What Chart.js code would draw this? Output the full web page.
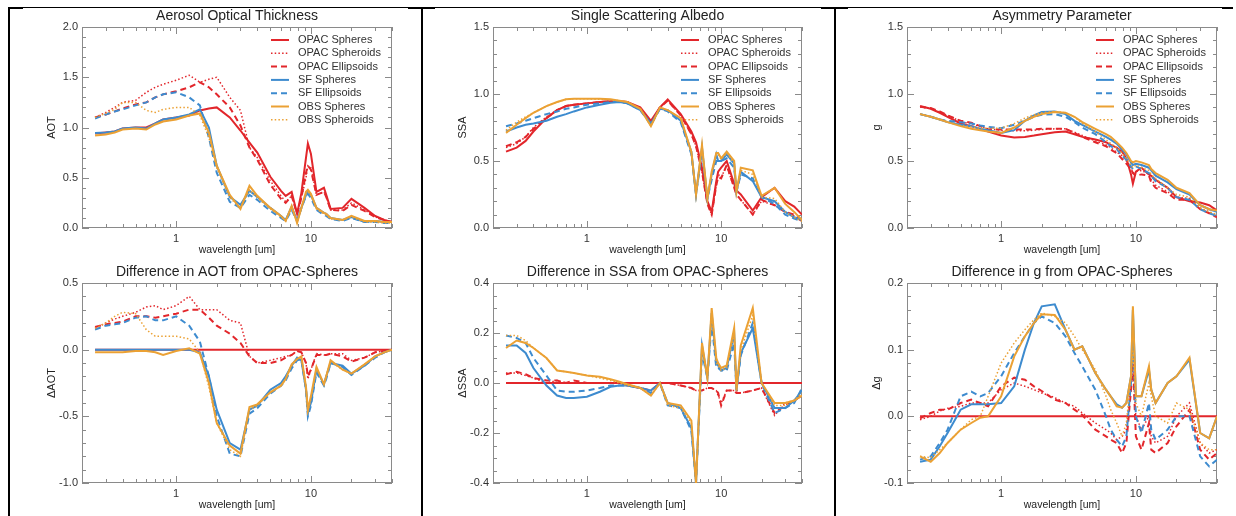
<!DOCTYPE html>
<html>
<head>
<meta charset="utf-8">
<script src="https://cdn.jsdelivr.net/npm/chart.js@4.4.1/dist/chart.umd.min.js"></script>
<style>
  html, body { margin: 0; padding: 0; background: #ffffff; }
  #page { position: relative; width: 1236px; height: 516px; overflow: hidden; background: #ffffff; }
  #page canvas { position: absolute; z-index: 1; }
  .rule { position: absolute; background: #000000; z-index: 2; }
</style>
</head>
<body>
<div id="page">
  <!-- table borders of the original document -->
  <div class="rule" style="left:8px;top:7px;width:1225px;height:1px;"></div>
  <div class="rule" style="left:8px;top:7px;width:15px;height:2px;"></div>
  <div class="rule" style="left:408px;top:7px;width:27px;height:2px;"></div>
  <div class="rule" style="left:821px;top:7px;width:27px;height:2px;"></div>
  <div class="rule" style="left:1222px;top:7px;width:11px;height:2px;"></div>
  <div class="rule" style="left:8px;top:7px;width:2px;height:509px;"></div>
  <div class="rule" style="left:421px;top:7px;width:2px;height:509px;"></div>
  <div class="rule" style="left:834px;top:7px;width:2px;height:509px;"></div>
</div>
<script>
// wavelengths [um]
const WL = [0.25, 0.3, 0.35, 0.4, 0.5, 0.6, 0.7, 0.8, 1.0, 1.25, 1.5, 1.75,
  2.0, 2.5, 3.0, 3.5, 4.0, 5.0, 6.0, 6.5, 7.2, 7.9, 8.5, 9.2,
  9.5, 10.0, 11.0, 12.5, 13.0, 14.0, 17.2, 20.0, 25.0, 30.0, 35.0, 40.0];

const SERIES_NAMES = ["OPAC Spheres", "OPAC Spheroids", "OPAC Ellipsoids",
  "SF Spheres", "SF Ellipsoids", "OBS Spheres", "OBS Spheroids"];

const X_MAJOR = [1, 10];
const X_MINOR = [0.2, 0.3, 0.4, 0.5, 0.6, 0.7, 0.8, 0.9, 2, 3, 4, 5, 6, 7, 8, 9, 20, 30, 40];

// Aerosol optical thickness
const aotOpacSph = [0.94,0.95,0.96,0.99,1.00,1.00,1.04,1.08,1.10,1.12,1.17,1.19, 1.20,1.10,0.97,0.85,0.75,0.51,0.37,0.32, 0.36,0.14,0.35,0.70,0.84,0.74,0.36,0.40, 0.33,0.19,0.20,0.29,0.20,0.12,0.08,0.06];
const aotOpacSpd = [1.10,1.15,1.20,1.25,1.27,1.35,1.40,1.43,1.47,1.52,1.45,1.48, 1.50,1.30,1.17,0.80,0.70,0.47,0.32,0.26, 0.32,0.14,0.30,0.50,0.62,0.60,0.33,0.36, 0.31,0.18,0.18,0.25,0.18,0.11,0.08,0.06];
const aotOpacEll = [1.10,1.13,1.16,1.19,1.23,1.25,1.30,1.33,1.36,1.40,1.45,1.40, 1.33,1.20,1.02,0.80,0.68,0.43,0.29,0.25, 0.32,0.14,0.30,0.55,0.62,0.58,0.33,0.36, 0.31,0.18,0.17,0.23,0.17,0.11,0.08,0.06];
const aotSfSph = [0.945,0.95,0.96,0.99,1.00,0.99,1.04,1.08,1.10,1.13,1.18,1.00, 0.62,0.31,0.23,0.37,0.31,0.20,0.12,0.08, 0.21,0.07,0.20,0.33,0.37,0.33,0.20,0.15, 0.14,0.10,0.08,0.11,0.06,0.07,0.06,0.06];
const aotSfEll = [1.09,1.13,1.16,1.18,1.22,1.25,1.30,1.33,1.35,1.30,1.22,0.90, 0.55,0.26,0.20,0.33,0.28,0.17,0.10,0.07, 0.18,0.07,0.20,0.32,0.34,0.30,0.18,0.13, 0.12,0.09,0.07,0.10,0.06,0.06,0.05,0.05];
const aotObsSph = [0.92,0.93,0.95,0.98,0.99,0.98,1.03,1.06,1.08,1.12,1.14,0.95, 0.62,0.33,0.19,0.42,0.32,0.20,0.12,0.07, 0.22,0.05,0.20,0.36,0.38,0.34,0.20,0.15, 0.14,0.10,0.08,0.12,0.07,0.07,0.06,0.06];
const aotObsSpd = [1.10,1.14,1.18,1.25,1.25,1.17,1.15,1.18,1.20,1.20,1.12,0.90, 0.60,0.30,0.20,0.38,0.30,0.19,0.11,0.07, 0.20,0.06,0.20,0.34,0.36,0.32,0.19,0.14, 0.13,0.09,0.08,0.11,0.06,0.06,0.05,0.05];

// Difference in AOT from OPAC-Spheres
const dAotOpacSph = [0,0,0,0,0,0,0,0,0,0,0,0, 0,0,0,0,0,0,0,0, 0,0,0,0,0,0,0,0, 0,0,0,0,0,0,0,0];
const dAotOpacSpd = [0.16,0.20,0.23,0.25,0.28,0.32,0.33,0.30,0.33,0.40,0.30,0.30, 0.30,0.22,0.20,-0.05,-0.10,-0.08,-0.06,-0.05, -0.04,-0.01,-0.02,-0.10,-0.22,-0.15,-0.03,-0.04, -0.04,-0.03,-0.03,-0.08,-0.06,-0.02,-0.01,0.00];
const dAotOpacEll = [0.17,0.19,0.20,0.21,0.25,0.25,0.24,0.25,0.27,0.30,0.30,0.24, 0.18,0.12,0.05,-0.05,-0.10,-0.10,-0.08,-0.06, -0.04,-0.01,-0.02,-0.10,-0.20,-0.15,-0.04,-0.04, -0.04,-0.03,-0.05,-0.09,-0.06,-0.02,-0.01,0.00];
const dAotSfSph = [0,0,0,0,0,0,0,0,0,0,-0.02,-0.20, -0.45,-0.70,-0.75,-0.45,-0.42,-0.30,-0.25,-0.20, -0.12,-0.06,-0.08,-0.30,-0.47,-0.40,-0.15,-0.26, -0.20,-0.10,-0.12,-0.18,-0.12,-0.05,-0.02,0.00];
const dAotSfEll = [0.15,0.18,0.19,0.20,0.24,0.25,0.22,0.22,0.25,0.18,0.06,-0.20, -0.50,-0.78,-0.80,-0.48,-0.44,-0.33,-0.27,-0.23, -0.14,-0.08,-0.07,-0.30,-0.50,-0.42,-0.17,-0.27, -0.22,-0.10,-0.13,-0.19,-0.12,-0.06,-0.02,0.00];
const dAotObsSph = [-0.02,-0.02,-0.02,-0.02,-0.01,-0.01,-0.02,-0.04,-0.01,0.01,-0.03,-0.25, -0.55,-0.72,-0.78,-0.43,-0.41,-0.32,-0.27,-0.22, -0.11,-0.07,-0.05,-0.28,-0.45,-0.35,-0.13,-0.26, -0.20,-0.08,-0.15,-0.18,-0.11,-0.05,-0.02,0.00];
const dAotObsSpd = [0.16,0.20,0.25,0.28,0.27,0.15,0.10,0.10,0.10,0.08,-0.02,-0.28, -0.55,-0.75,-0.80,-0.45,-0.42,-0.32,-0.27,-0.22, -0.12,-0.07,-0.06,-0.29,-0.46,-0.37,-0.14,-0.26, -0.20,-0.09,-0.15,-0.18,-0.11,-0.05,-0.02,0.00];

// Single scattering albedo
const ssaOpacSph = [0.57,0.60,0.65,0.72,0.82,0.88,0.91,0.92,0.93,0.94,0.945,0.945, 0.94,0.90,0.80,0.90,0.96,0.85,0.72,0.64, 0.45,0.20,0.12,0.35,0.42,0.45,0.50,0.33, 0.28,0.25,0.13,0.23,0.30,0.20,0.16,0.10];
const ssaOpacSpd = [0.60,0.63,0.68,0.75,0.83,0.88,0.91,0.92,0.93,0.94,0.945,0.945, 0.94,0.89,0.78,0.90,0.95,0.84,0.70,0.61, 0.42,0.18,0.10,0.32,0.40,0.38,0.46,0.30, 0.25,0.21,0.10,0.20,0.17,0.12,0.09,0.05];
const ssaOpacEll = [0.61,0.64,0.68,0.74,0.82,0.88,0.91,0.92,0.93,0.94,0.945,0.945, 0.94,0.89,0.78,0.90,0.95,0.84,0.70,0.61, 0.42,0.18,0.10,0.32,0.38,0.37,0.47,0.30, 0.25,0.21,0.10,0.21,0.17,0.12,0.10,0.05];
const ssaSfSph = [0.72,0.75,0.77,0.78,0.80,0.83,0.85,0.87,0.90,0.92,0.935,0.94, 0.93,0.88,0.78,0.89,0.88,0.80,0.57,0.25, 0.60,0.22,0.40,0.55,0.50,0.50,0.55,0.48, 0.27,0.42,0.35,0.23,0.20,0.12,0.08,0.06];
const ssaSfEll = [0.76,0.78,0.80,0.82,0.85,0.87,0.89,0.90,0.92,0.93,0.94,0.94, 0.93,0.88,0.77,0.89,0.87,0.79,0.55,0.25, 0.57,0.22,0.36,0.50,0.50,0.50,0.52,0.45, 0.27,0.40,0.37,0.23,0.18,0.10,0.07,0.05];
const ssaObsSph = [0.71,0.77,0.82,0.86,0.91,0.94,0.96,0.965,0.965,0.965,0.96,0.95, 0.94,0.89,0.76,0.90,0.88,0.82,0.57,0.25, 0.62,0.22,0.42,0.56,0.56,0.52,0.57,0.50, 0.27,0.45,0.43,0.24,0.30,0.18,0.12,0.06];
const ssaObsSpd = [0.73,0.79,0.83,0.86,0.91,0.94,0.96,0.965,0.965,0.96,0.955,0.95, 0.94,0.89,0.76,0.90,0.88,0.82,0.56,0.25, 0.60,0.22,0.40,0.55,0.55,0.51,0.56,0.48, 0.27,0.43,0.40,0.23,0.22,0.12,0.08,0.05];

// Difference in SSA from OPAC-Spheres
const dSsaOpacSph = [0,0,0,0,0,0,0,0,0,0,0,0, 0,0,0,0,0,0,0,0, 0,0,0,0,0,0,0,0, 0,0,0,0,0,0,0,0];
const dSsaOpacSpd = [0.04,0.04,0.03,0.02,0.00,0.01,0.00,0.00,0.00,0.00,0.00,0.00, -0.01,-0.02,-0.03,0.00,0.00,-0.01,-0.02,-0.03, -0.03,-0.02,-0.02,-0.03,-0.05,-0.08,-0.03,-0.03, -0.03,-0.04,-0.03,-0.02,-0.13,-0.08,-0.07,-0.05];
const dSsaOpacEll = [0.035,0.045,0.035,0.02,0.01,0.01,0.00,0.01,0.00,0.00,0.00,0.00, -0.01,-0.02,-0.03,0.00,0.00,-0.01,-0.02,-0.03, -0.03,-0.02,-0.02,-0.03,-0.04,-0.09,-0.03,-0.03, -0.04,-0.04,-0.03,-0.02,-0.12,-0.09,-0.07,-0.05];
const dSsaSfSph = [0.15,0.15,0.12,0.06,-0.01,-0.05,-0.06,-0.06,-0.055,-0.035,-0.015,-0.01, -0.01,-0.02,-0.03,0.00,-0.08,-0.10,-0.18,-0.40, 0.15,0.02,0.28,0.08,0.07,0.05,0.06,0.20, -0.03,0.12,0.22,0.00,-0.10,-0.10,-0.07,-0.03];
const dSsaSfEll = [0.19,0.18,0.16,0.10,0.03,-0.03,-0.035,-0.035,-0.03,-0.02,-0.01,-0.01, -0.01,-0.02,-0.04,0.00,-0.09,-0.10,-0.19,-0.40, 0.12,0.02,0.24,0.06,0.06,0.05,0.05,0.16, -0.03,0.11,0.24,0.00,-0.12,-0.10,-0.08,-0.02];
const dSsaObsSph = [0.14,0.17,0.16,0.14,0.10,0.05,0.045,0.04,0.03,0.025,0.015,0.005, -0.005,-0.02,-0.05,0.00,-0.08,-0.09,-0.15,-0.40, 0.16,0.02,0.30,0.10,0.08,0.06,0.07,0.22, -0.03,0.15,0.30,0.00,-0.08,-0.08,-0.07,-0.05];
const dSsaObsSpd = [0.19,0.19,0.17,0.14,0.10,0.05,0.045,0.04,0.03,0.02,0.01,0.00, -0.01,-0.02,-0.05,0.00,-0.09,-0.10,-0.16,-0.40, 0.14,0.02,0.27,0.08,0.07,0.05,0.06,0.20, -0.03,0.13,0.27,0.00,-0.09,-0.09,-0.07,-0.04];

// Asymmetry parameter
const gOpacSph = [0.91,0.89,0.86,0.83,0.78,0.76,0.74,0.72,0.69,0.675,0.68,0.69, 0.70,0.715,0.72,0.70,0.68,0.66,0.64,0.62, 0.60,0.57,0.52,0.40,0.33,0.42,0.45,0.40, 0.39,0.36,0.30,0.23,0.20,0.19,0.17,0.13];
const gOpacSpd = [0.905,0.89,0.865,0.84,0.795,0.775,0.76,0.74,0.73,0.725,0.725,0.73, 0.735,0.74,0.74,0.715,0.69,0.65,0.62,0.60, 0.565,0.54,0.50,0.45,0.41,0.42,0.43,0.40, 0.36,0.32,0.27,0.23,0.22,0.15,0.12,0.09];
const gOpacEll = [0.905,0.895,0.87,0.84,0.80,0.785,0.76,0.735,0.735,0.735,0.735,0.735, 0.74,0.74,0.74,0.71,0.68,0.64,0.61,0.585, 0.56,0.515,0.48,0.44,0.41,0.39,0.40,0.39, 0.34,0.30,0.26,0.21,0.21,0.14,0.11,0.08];
const gSfSph = [0.85,0.83,0.81,0.79,0.77,0.76,0.74,0.73,0.71,0.73,0.80,0.84, 0.865,0.87,0.85,0.80,0.77,0.72,0.68,0.66, 0.63,0.585,0.55,0.49,0.47,0.48,0.47,0.45, 0.43,0.39,0.34,0.29,0.25,0.17,0.14,0.12];
const gSfEll = [0.85,0.83,0.81,0.80,0.79,0.78,0.765,0.755,0.745,0.77,0.80,0.83, 0.845,0.85,0.83,0.79,0.75,0.70,0.64,0.61, 0.59,0.54,0.51,0.46,0.44,0.46,0.44,0.41, 0.39,0.35,0.30,0.23,0.21,0.14,0.11,0.09];
const gObsSph = [0.85,0.83,0.81,0.79,0.76,0.74,0.73,0.72,0.71,0.75,0.80,0.83, 0.85,0.865,0.86,0.83,0.79,0.74,0.70,0.68, 0.64,0.60,0.56,0.50,0.49,0.50,0.49,0.47, 0.44,0.41,0.36,0.30,0.26,0.17,0.14,0.13];
const gObsSpd = [0.85,0.83,0.81,0.79,0.765,0.755,0.745,0.745,0.745,0.78,0.82,0.845, 0.86,0.87,0.86,0.83,0.78,0.72,0.66,0.63, 0.60,0.56,0.52,0.47,0.45,0.47,0.45,0.43, 0.40,0.37,0.30,0.25,0.23,0.15,0.12,0.10];

// Difference in g from OPAC-Spheres
const dGOpacSph = [0,0,0,0,0,0,0,0,0,0,0,0, 0,0,0,0,0,0,0,0, 0,0,0,0,0,0,0,0, 0,0,0,0,0,0,0,0];
const dGOpacSpd = [-0.005,0.0,0.008,0.012,0.015,0.02,0.02,0.02,0.04,0.05,0.045,0.04, 0.035,0.028,0.02,0.015,0.005,-0.01,-0.02,-0.025, -0.035,-0.03,-0.02,0.05,0.075,0.0,-0.02,0.0, -0.03,-0.04,-0.03,0.0,0.02,-0.04,-0.055,-0.05];
const dGOpacEll = [-0.003,0.005,0.01,0.01,0.02,0.025,0.02,0.015,0.045,0.058,0.055,0.045, 0.038,0.025,0.02,0.01,0.002,-0.02,-0.03,-0.035, -0.04,-0.055,-0.04,0.04,0.08,-0.03,-0.05,-0.01, -0.05,-0.055,-0.04,-0.015,0.01,-0.05,-0.065,-0.055];
const dGSfSph = [-0.068,-0.065,-0.045,-0.025,0.01,0.018,0.018,0.018,0.02,0.045,0.10,0.14, 0.165,0.168,0.13,0.10,0.105,0.065,0.04,0.03, 0.018,0.013,0.02,0.06,0.16,0.03,0.03,0.07, 0.04,0.02,0.05,0.06,0.085,-0.025,-0.033,0.0];
const dGSfEll = [-0.065,-0.06,-0.04,-0.02,0.03,0.037,0.03,0.035,0.06,0.095,0.12,0.14, 0.15,0.14,0.12,0.095,0.075,0.04,0.0,-0.02, -0.035,-0.045,-0.03,0.05,0.12,0.0,-0.025,0.02, -0.02,-0.035,-0.02,0.0,0.0,-0.06,-0.075,-0.065];
const dGObsSph = [-0.06,-0.068,-0.055,-0.04,-0.02,-0.01,-0.002,0.0,0.03,0.09,0.12,0.14, 0.153,0.152,0.13,0.10,0.105,0.065,0.04,0.03, 0.015,0.013,0.02,0.06,0.165,0.03,0.03,0.075, 0.04,0.02,0.05,0.06,0.088,-0.025,-0.033,0.0];
const dGObsSpd = [-0.06,-0.062,-0.05,-0.04,-0.02,-0.005,0.0,0.03,0.08,0.11,0.13,0.145, 0.155,0.15,0.14,0.12,0.10,0.07,0.03,0.01, -0.01,-0.03,-0.01,0.06,0.10,0.02,0.0,0.05, 0.03,0.0,-0.01,0.02,0.01,-0.04,-0.05,-0.05];

// ---- styles ----
const RED = "#e2262b", BLUE = "#3d8bcf", ORANGE = "#eba134";
const DOT = [1.5, 2.2], DASH = [6, 4];
const STYLES = [
  { color: RED, dash: [], width: 2 },
  { color: RED, dash: DOT, width: 1.5 },
  { color: RED, dash: DASH, width: 2 },
  { color: BLUE, dash: [], width: 2 },
  { color: BLUE, dash: DASH, width: 2 },
  { color: ORANGE, dash: [], width: 2 },
  { color: ORANGE, dash: DOT, width: 1.5 },
];

Chart.defaults.font.family = "'Liberation Sans', Arial, Helvetica, sans-serif";
Chart.defaults.color = "#333333";

const PANELS = [
  { title: "Aerosol Optical Thickness", yTitle: "AOT", min: 0, max: 2, step: 0.5, minor: 0.1, legend: true,
    box: { x: 82, y: 27, w: 310, h: 201 },
    series: [aotOpacSph, aotOpacSpd, aotOpacEll, aotSfSph, aotSfEll, aotObsSph, aotObsSpd] },
  { title: "Single Scattering Albedo", yTitle: "SSA", min: 0, max: 1.5, step: 0.5, minor: 0.1, legend: true,
    box: { x: 493, y: 27, w: 309, h: 201 },
    series: [ssaOpacSph, ssaOpacSpd, ssaOpacEll, ssaSfSph, ssaSfEll, ssaObsSph, ssaObsSpd] },
  { title: "Asymmetry Parameter", yTitle: "g", min: 0, max: 1.5, step: 0.5, minor: 0.1, legend: true,
    box: { x: 907, y: 27, w: 310, h: 201 },
    series: [gOpacSph, gOpacSpd, gOpacEll, gSfSph, gSfEll, gObsSph, gObsSpd] },
  { title: "Difference in AOT from OPAC-Spheres", yTitle: "\u0394AOT", min: -1, max: 0.5, step: 0.5, minor: 0.1, legend: false,
    box: { x: 82, y: 283, w: 310, h: 200 },
    series: [dAotOpacSph, dAotOpacSpd, dAotOpacEll, dAotSfSph, dAotSfEll, dAotObsSph, dAotObsSpd] },
  { title: "Difference in SSA from OPAC-Spheres", yTitle: "\u0394SSA", min: -0.4, max: 0.4, step: 0.2, minor: 0.05, legend: false,
    box: { x: 493, y: 283, w: 309, h: 200 },
    series: [dSsaOpacSph, dSsaOpacSpd, dSsaOpacEll, dSsaSfSph, dSsaSfEll, dSsaObsSph, dSsaObsSpd] },
  { title: "Difference in g from OPAC-Spheres", yTitle: "\u0394g", min: -0.1, max: 0.2, step: 0.1, minor: 0.02, legend: false,
    box: { x: 907, y: 283, w: 310, h: 200 },
    series: [dGOpacSph, dGOpacSpd, dGOpacEll, dGSfSph, dGSfEll, dGObsSph, dGObsSpd] },
];

// IDL-like box with inward ticks on all four sides
const idlFrame = {
  id: "idlFrame",
  beforeDatasetsDraw(chart, args, opts) {
    const { ctx, chartArea: a, scales: { x, y } } = chart;
    ctx.save();
    ctx.strokeStyle = "#8a8a8a";
    ctx.lineWidth = 1;
    ctx.strokeRect(a.left + 0.5, a.top + 0.5, a.width - 1, a.height - 1);
    ctx.beginPath();
    const xt = (v, len) => {
      const p = Math.round(x.getPixelForValue(v)) + 0.5;
      ctx.moveTo(p, a.bottom); ctx.lineTo(p, a.bottom - len);
      ctx.moveTo(p, a.top); ctx.lineTo(p, a.top + len);
    };
    const yt = (v, len) => {
      const p = Math.round(y.getPixelForValue(v)) + 0.5;
      ctx.moveTo(a.left, p); ctx.lineTo(a.left + len, p);
      ctx.moveTo(a.right, p); ctx.lineTo(a.right - len, p);
    };
    X_MAJOR.forEach(v => xt(v, 7));
    X_MINOR.forEach(v => xt(v, 4));
    const n = Math.round((y.max - y.min) / opts.minor);
    for (let i = 0; i <= n; i++) {
      const v = y.min + i * opts.minor;
      const major = Math.abs(v / opts.step - Math.round(v / opts.step)) < 1e-6;
      yt(v, major ? 7 : 4);
    }
    ctx.stroke();
    ctx.restore();
  }
};

// legend drawn inside the plot, upper right
const insetLegend = {
  id: "insetLegend",
  afterDatasetsDraw(chart, args, opts) {
    if (!opts.show) return;
    const { ctx, chartArea: a } = chart;
    ctx.save();
    ctx.font = "11px 'Liberation Sans', Arial, sans-serif";
    ctx.textBaseline = "middle";
    ctx.textAlign = "left";
    chart.data.datasets.forEach((ds, i) => {
      const yy = a.top + 13 + i * 13.3;
      ctx.strokeStyle = ds.borderColor;
      ctx.lineWidth = ds.borderWidth;
      ctx.setLineDash(ds.borderDash);
      ctx.beginPath();
      ctx.moveTo(a.right - 121, yy);
      ctx.lineTo(a.right - 103, yy);
      ctx.stroke();
      ctx.setLineDash([]);
      ctx.fillStyle = "#333333";
      ctx.fillText(ds.label, a.right - 94, yy);
    });
    ctx.restore();
  }
};

const Y_W = 60, T_H = 24, X_H = 30, R_PAD = 8;
const page = document.getElementById("page");

PANELS.forEach(p => {
  const canvas = document.createElement("canvas");
  const w = p.box.w + Y_W + R_PAD;
  const h = p.box.h + T_H + X_H;
  canvas.width = w;
  canvas.height = h;
  canvas.style.width = w + "px";
  canvas.style.height = h + "px";
  canvas.style.left = (p.box.x - Y_W) + "px";
  canvas.style.top = (p.box.y - T_H) + "px";
  page.appendChild(canvas);

  const datasets = p.series.map((vals, i) => ({
    label: SERIES_NAMES[i],
    data: vals.map((v, k) => ({ x: WL[k], y: v })),
    borderColor: STYLES[i].color,
    borderDash: STYLES[i].dash,
    borderWidth: STYLES[i].width,
    pointRadius: 0,
    tension: 0,
    fill: false,
    order: STYLES.length - i,
  }));

  new Chart(canvas.getContext("2d"), {
    type: "line",
    data: { datasets },
    options: {
      responsive: false,
      animation: false,
      devicePixelRatio: 1,
      layout: { padding: { left: 0, right: R_PAD, top: 0, bottom: 0 } },
      plugins: {
        legend: { display: false },
        tooltip: { enabled: false },
        title: {
          display: true,
          text: p.title,
          fullSize: false,
          color: "#222222",
          font: { size: 14, weight: "normal", lineHeight: "15px" },
          padding: { top: 6, bottom: 3 },
        },
        idlFrame: { minor: p.minor, step: p.step },
        insetLegend: { show: p.legend },
      },
      scales: {
        x: {
          type: "logarithmic",
          min: 0.2,
          max: 40,
          grid: { display: false, drawTicks: false },
          border: { display: false },
          afterFit: s => { s.height = X_H; },
          afterBuildTicks: s => { s.ticks = X_MAJOR.map(v => ({ value: v })); },
          ticks: {
            autoSkip: false,
            maxRotation: 0,
            padding: 4,
            color: "#333333",
            font: { size: 11 },
            callback: v => String(v),
          },
          title: {
            display: true,
            text: "wavelength [um]",
            color: "#222222",
            font: { size: 10.5 },
            padding: { top: 0, bottom: 2 },
          },
        },
        y: {
          min: p.min,
          max: p.max,
          grid: { display: false, drawTicks: false },
          border: { display: false },
          afterFit: s => { s.width = Y_W; },
          ticks: {
            stepSize: p.step,
            padding: 4,
            color: "#333333",
            font: { size: 11 },
            callback: v => Number(v).toFixed(1),
          },
          title: {
            display: true,
            text: p.yTitle,
            color: "#222222",
            font: { size: 11 },
            padding: { top: 23, bottom: 0 },
          },
        },
      },
    },
    plugins: [idlFrame, insetLegend],
  });
});
</script>
</body>
</html>
